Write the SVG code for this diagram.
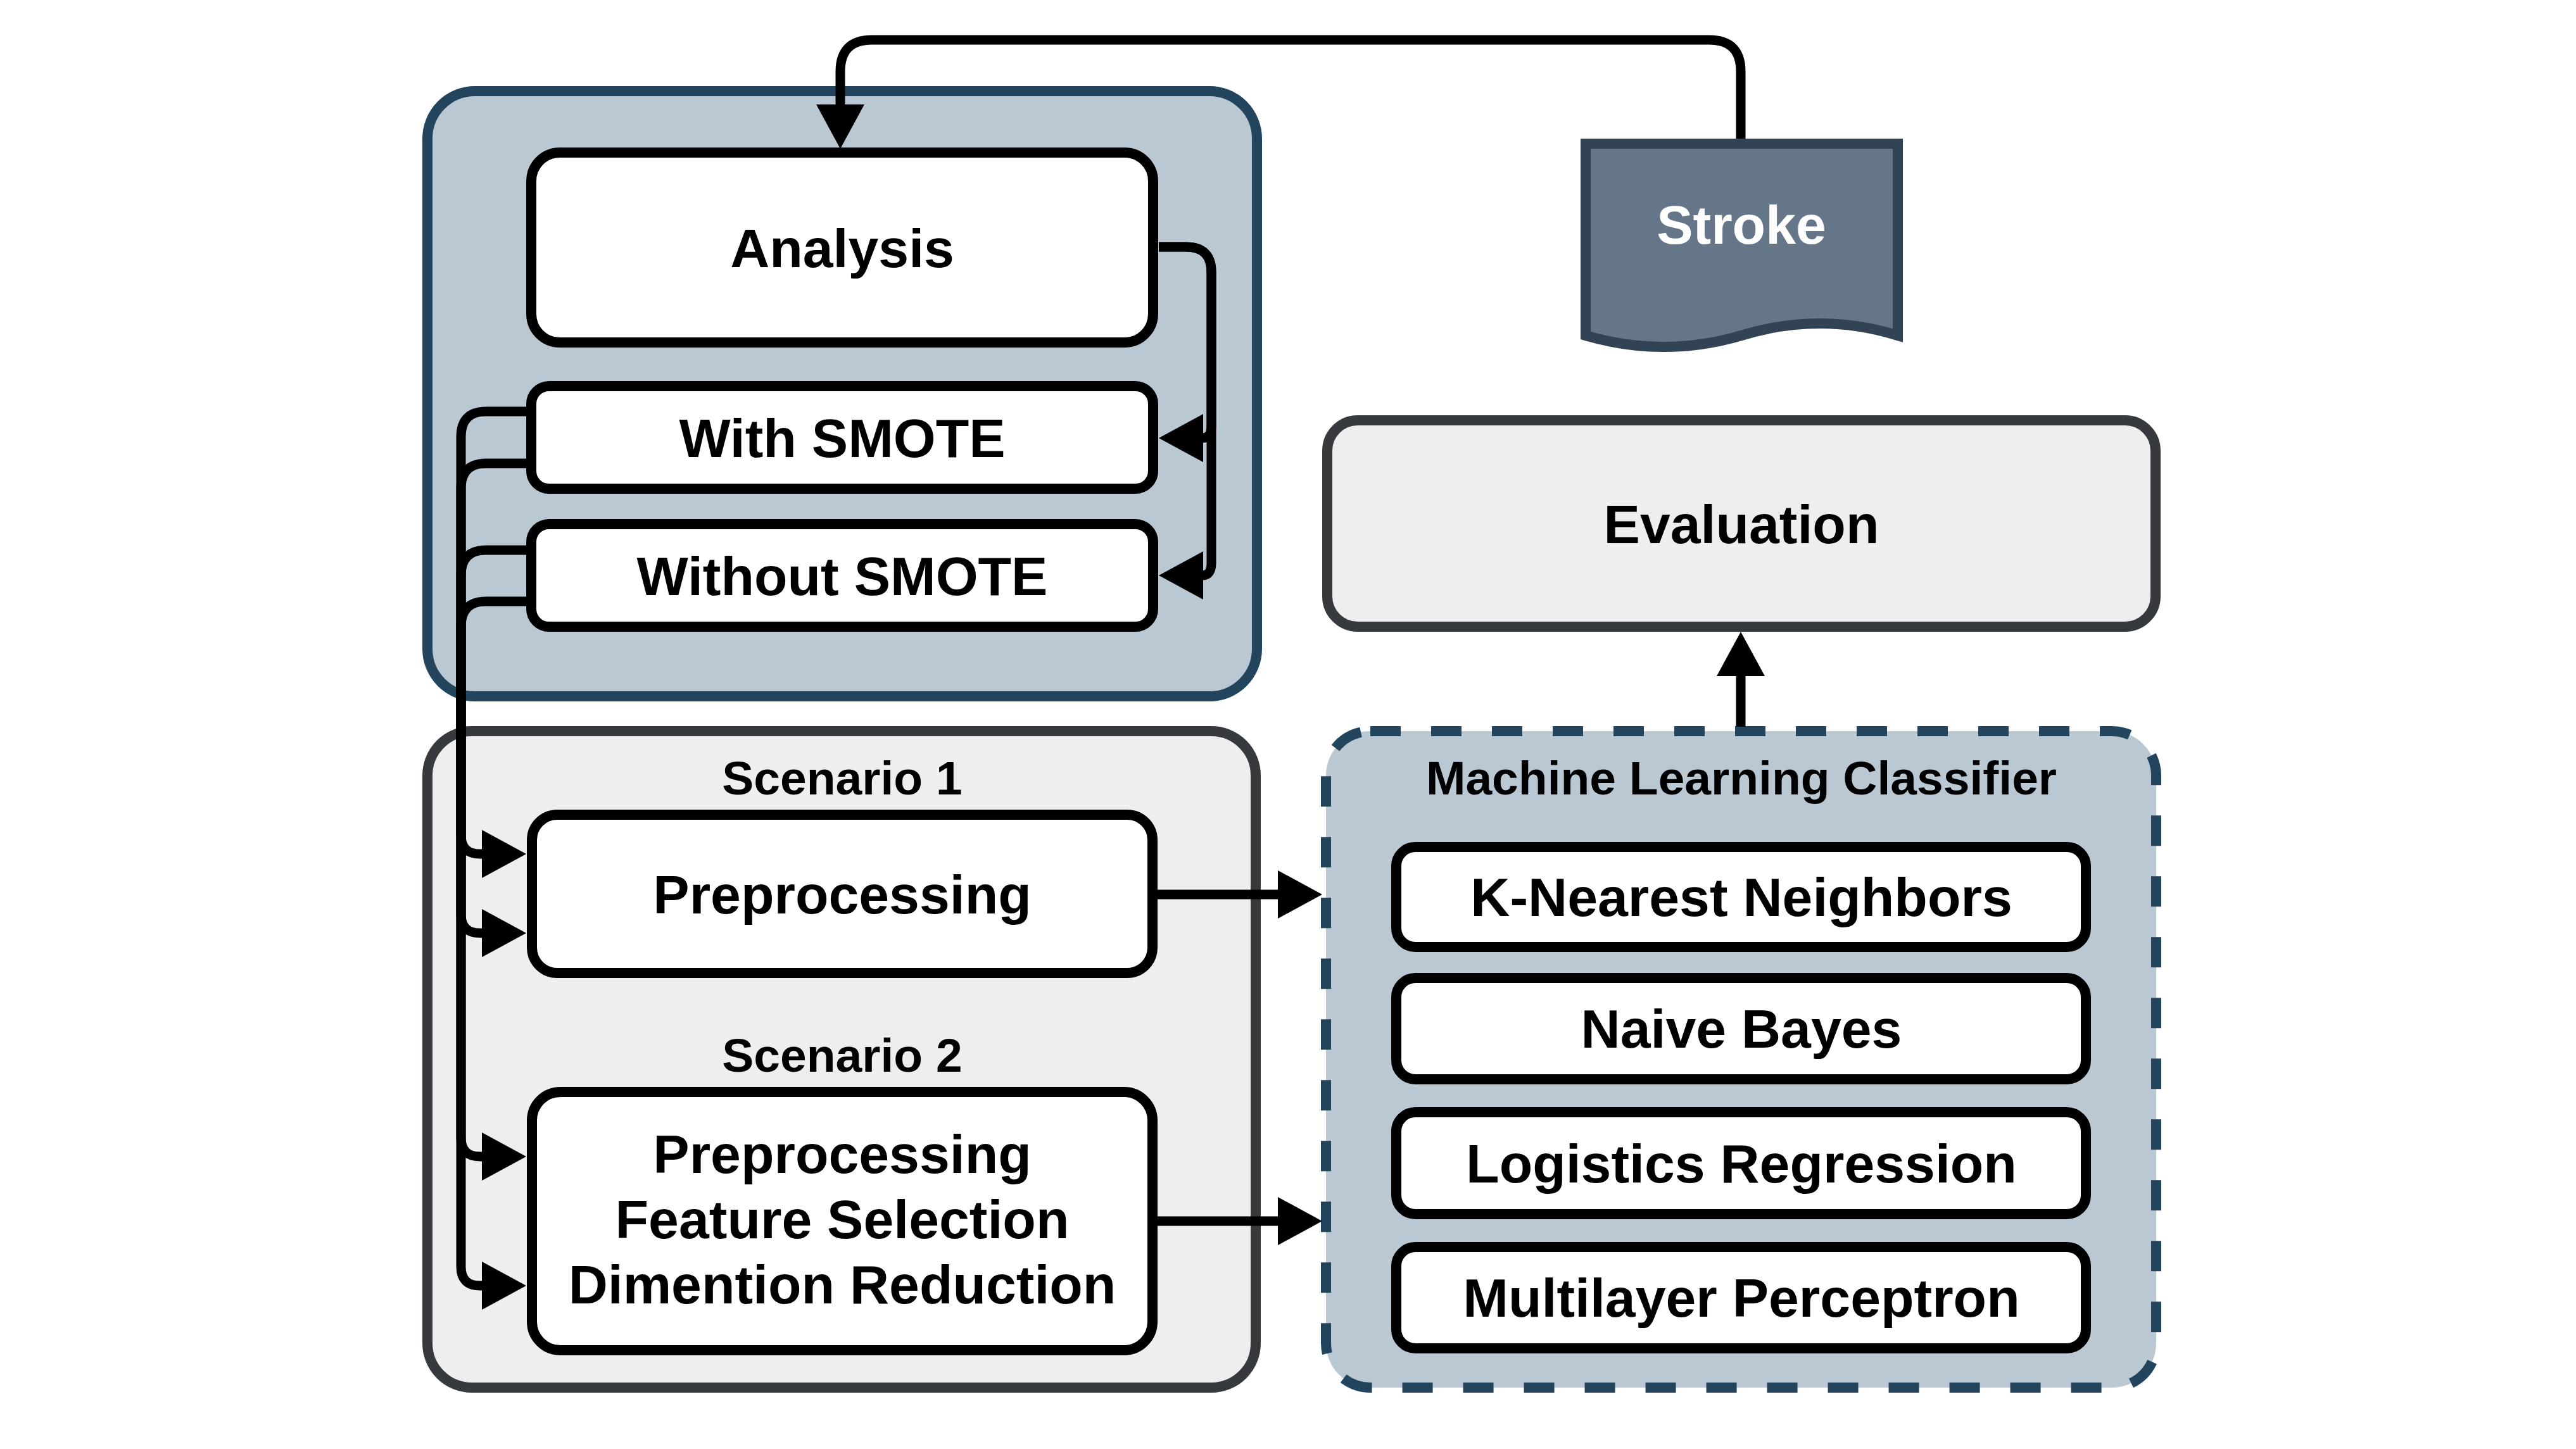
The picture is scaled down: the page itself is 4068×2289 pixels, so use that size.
<svg xmlns="http://www.w3.org/2000/svg" width="4068" height="2289" viewBox="0 0 4068 2289">
<defs>
<style>
text{font-family:"Liberation Sans",Arial,sans-serif;font-weight:bold;text-anchor:middle;fill:#000}
.big{font-size:86px}
.small{font-size:75px}
.white{fill:#fff}
.box{fill:#fff;stroke:#000;stroke-width:16}
.blue{fill:#bac8d3;stroke:#23445d;stroke-width:16}
.gray{fill:#eeeeee;stroke:#36393d;stroke-width:16}
.dash{stroke-dasharray:48 48}
.edge{fill:none;stroke:#000;stroke-width:15;marker-end:url(#arr)}
</style>
<marker id="arr" markerUnits="userSpaceOnUse" markerWidth="72" markerHeight="80" viewBox="0 0 72 80" refX="1" refY="40" orient="auto">
<path d="M0,2 L70,40 L0,78 Z" fill="#000"/>
</marker>
</defs>
<rect width="4068" height="2289" fill="#fff"/>

<g id="analysis-group">
<rect class="blue" x="675" y="144" width="1310" height="956" rx="75"/>
</g>
<g id="scenario-group">
<rect class="gray" x="675" y="1155" width="1308" height="1037" rx="70"/>
<text class="small" x="1330" y="1255">Scenario 1</text>
<text class="small" x="1330" y="1693">Scenario 2</text>
</g>
<g id="classifier-group">
<rect class="blue dash" x="2094" y="1155" width="1311" height="1037" rx="70"/>
<text class="small" x="2750" y="1255">Machine Learning Classifier</text>
</g>

<g id="connectors">
<path class="edge" d="M2749,219 V113 Q2749,63 2699,63 H1377 Q1327,63 1327,113 V166"/>
<path class="edge" d="M1830,390 H1873 Q1913,390 1913,430 V672 Q1913,692 1899,692"/>
<path class="edge" d="M1830,390 H1873 Q1913,390 1913,430 V889 Q1913,909 1899,909"/>
<path class="edge" d="M832,650 H768 Q728,650 728,690 V1319 Q728,1349 758,1349 H762"/>
<path class="edge" d="M832,732 H768 Q728,732 728,772 V1797 Q728,1827 758,1827 H762"/>
<path class="edge" d="M832,869 H768 Q728,869 728,909 V1444 Q728,1474 758,1474 H762"/>
<path class="edge" d="M832,950 H768 Q728,950 728,990 V2001 Q728,2031 758,2031 H762"/>
<path class="edge" d="M1828,1413 H2019"/>
<path class="edge" d="M1828,1929 H2019"/>
<path class="edge" d="M2749,1148 V1067"/>
</g>

<g id="stroke">
<path d="M2504,227 L2997,227 L2997,530 Q2874,492 2750,530 Q2627,566 2504,530 Z" fill="#647687" stroke="#314354" stroke-width="16"/>
<text class="big white" x="2750" y="385">Stroke</text>
</g>
<g id="analysis">
<rect class="box" x="839" y="241" width="982" height="300" rx="45"/>
<text class="big" x="1330" y="422">Analysis</text>
</g>
<g id="with-smote">
<rect class="box" x="839" y="610" width="982" height="162" rx="28"/>
<text class="big" x="1330" y="722">With SMOTE</text>
</g>
<g id="without-smote">
<rect class="box" x="839" y="828" width="982" height="162" rx="28"/>
<text class="big" x="1330" y="940">Without SMOTE</text>
</g>
<g id="preprocessing">
<rect class="box" x="840" y="1287" width="980" height="250" rx="40"/>
<text class="big" x="1330" y="1443">Preprocessing</text>
</g>
<g id="scenario2-steps">
<rect class="box" x="840" y="1725" width="980" height="408" rx="45"/>
<text class="big" x="1330" y="1853">Preprocessing</text>
<text class="big" x="1330" y="1956">Feature Selection</text>
<text class="big" x="1330" y="2059">Dimention Reduction</text>
</g>
<g id="evaluation">
<rect class="gray" x="2096" y="664" width="1308" height="326" rx="48"/>
<text class="big" x="2750" y="858">Evaluation</text>
</g>
<g id="knn">
<rect class="box" x="2205" y="1338" width="1089" height="158" rx="30"/>
<text class="big" x="2750" y="1447">K-Nearest Neighbors</text>
</g>
<g id="naive-bayes">
<rect class="box" x="2205" y="1545" width="1089" height="160" rx="30"/>
<text class="big" x="2750" y="1655">Naive Bayes</text>
</g>
<g id="logistic-regression">
<rect class="box" x="2205" y="1757" width="1089" height="161" rx="30"/>
<text class="big" x="2750" y="1868">Logistics Regression</text>
</g>
<g id="mlp">
<rect class="box" x="2205" y="1970" width="1089" height="160" rx="30"/>
<text class="big" x="2750" y="2080">Multilayer Perceptron</text>
</g>
</svg>
